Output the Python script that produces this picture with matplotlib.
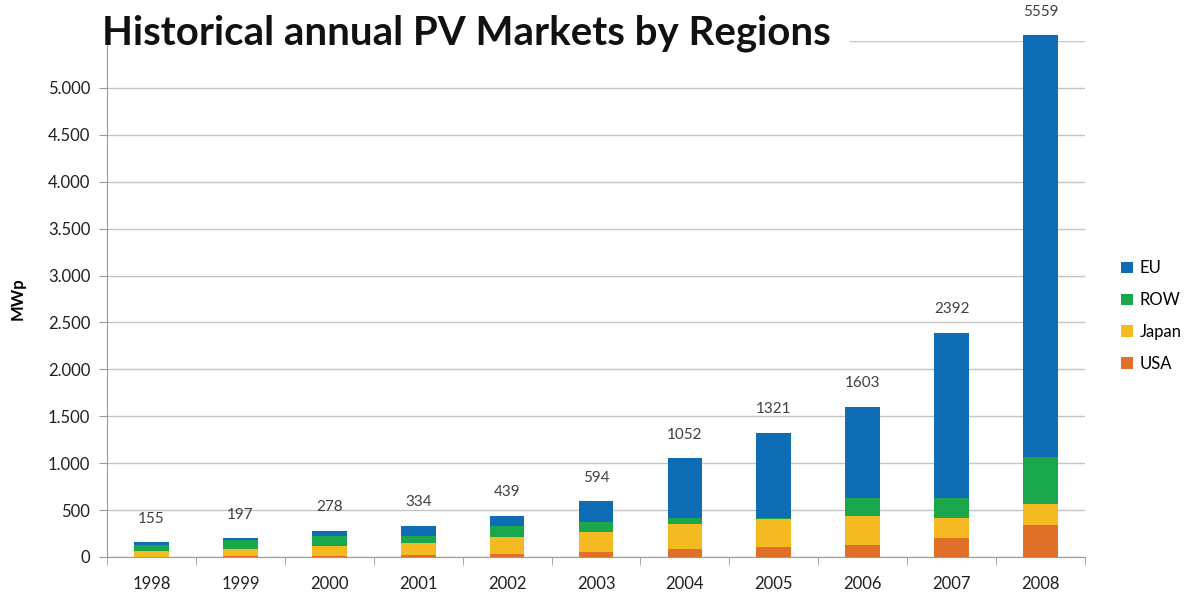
import matplotlib
matplotlib.use("Agg")
import matplotlib.pyplot as plt
import numpy as np
from matplotlib.ticker import FuncFormatter

# Data (MWp)
years = ["1998", "1999", "2000", "2001", "2002", "2003", "2004", "2005", "2006", "2007", "2008"]
usa = [5, 10, 10, 18, 36, 50, 83, 108, 133, 198, 338]
japan = [60, 80, 110, 135, 181, 217, 270, 292, 299, 216, 230]
row = [65, 90, 99, 75, 110, 107, 61, 15, 198, 216, 501]
eu = [25, 17, 59, 106, 112, 220, 638, 906, 973, 1762, 4490]
totals = [155, 197, 278, 334, 439, 594, 1052, 1321, 1603, 2392, 5559]

colors = {"USA": "#E07028", "Japan": "#F5BA22", "ROW": "#1AA64B", "EU": "#0F6DB5"}

plt.rcParams['font.family'] = ['Lato', 'DejaVu Sans']

fig = plt.figure(figsize=(11.97, 6), dpi=100)
ax = fig.add_axes([0.0894, 0.0717, 0.817, 0.86])

x = np.arange(len(years))
w = 0.39
bottom = np.zeros(len(years))
for name, vals in [("USA", usa), ("Japan", japan), ("ROW", row), ("EU", eu)]:
    ax.bar(x, vals, w, bottom=bottom, color=colors[name], label=name, zorder=3, clip_on=False)
    bottom += np.array(vals)

# totals above bars
for xi, t, top in zip(x, totals, bottom):
    ax.annotate(str(t), (xi, top), xytext=(0, 12), textcoords="offset points",
                ha="center", va="bottom", fontsize=11, color="#404040", annotation_clip=False)

ax.set_xlim(-0.5, len(years) - 0.5)
ax.set_ylim(0, 5500)
ax.set_yticks(range(0, 5001, 500))
ax.yaxis.set_major_formatter(FuncFormatter(lambda v, p: f"{int(v):,}".replace(",", ".")))
ax.yaxis.grid(True, color="#C4C4C4", linewidth=1, zorder=0)
ax.axhline(5500, xmin=0.76, xmax=1, color="#C4C4C4", linewidth=1, zorder=0)

ax.set_xticks(x)
ax.set_xticklabels(years)
ax.set_xticks(np.arange(-0.5, len(years), 1), minor=True)
ax.tick_params(axis="x", which="major", length=0, pad=14, labelsize=12, labelcolor="#202020")
ax.tick_params(axis="x", which="minor", length=6, color="#9A9A9A")
ax.tick_params(axis="y", length=6, color="#9A9A9A", labelsize=12, labelcolor="#202020", pad=6)

for s in ["top", "right"]:
    ax.spines[s].set_visible(False)
ax.spines["left"].set_color("#9A9A9A")
ax.spines["bottom"].set_color("#9A9A9A")

ax.set_ylabel("MWp", fontsize=12, fontweight="bold", labelpad=16)

fig.text(0.085, 0.945, "Historical annual PV Markets by Regions", fontsize=29,
         fontweight="bold", color="#111111", ha="left", va="center")

handles, labels = ax.get_legend_handles_labels()
leg = fig.legend(handles[::-1], labels[::-1], loc="center left", bbox_to_anchor=(0.924, 0.473),
                 frameon=False, fontsize=12, handlelength=0.7, handleheight=0.7,
                 handletextpad=0.4, labelspacing=0.95)

fig.savefig("out.png", dpi=100)
